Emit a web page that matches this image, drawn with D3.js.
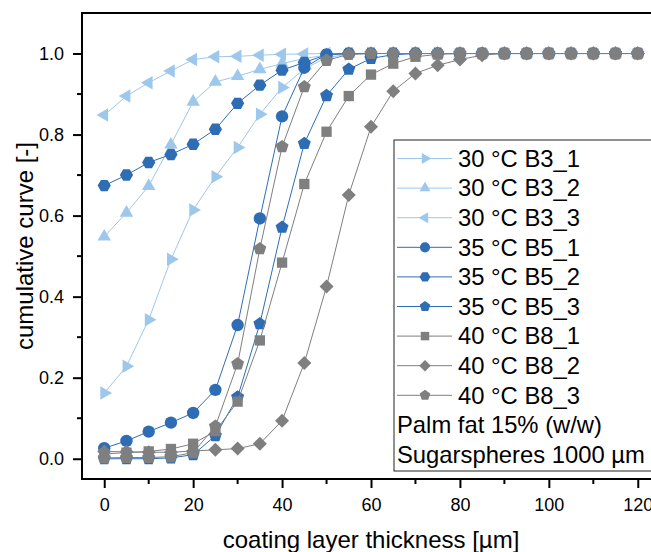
<!DOCTYPE html>
<html>
<head>
<meta charset="utf-8">
<script src="https://cdn.jsdelivr.net/npm/d3@7"></script>
<style>
  html, body { margin: 0; padding: 0; background: #fff; }
  svg { display: block; font-family: Arial, "Liberation Sans", sans-serif; }
</style>
</head>
<body>
<svg id="chart" width="651" height="552"></svg>
<script>
// coating layer thickness [µm]
const thickness = [0, 5, 10, 15, 20, 25, 30, 35, 40, 45, 50, 55, 60, 65, 70, 75, 80, 85, 90, 95, 100, 105, 110, 115, 120];

// cumulative curves per batch
const b3_1 = [0.162, 0.228, 0.343, 0.492, 0.614, 0.696, 0.768, 0.850, 0.916, 0.962, 0.990, 0.998, 1, 1, 1, 1, 1, 1, 1, 1, 1, 1, 1, 1, 1];
const b3_2 = [0.548, 0.607, 0.673, 0.775, 0.881, 0.930, 0.944, 0.961, 0.975, 0.988, 0.996, 1, 1, 1, 1, 1, 1, 1, 1, 1, 1, 1, 1, 1, 1];
const b3_3 = [0.848, 0.895, 0.928, 0.957, 0.985, 0.992, 0.993, 0.996, 0.998, 0.999, 1, 1, 1, 1, 1, 1, 1, 1, 1, 1, 1, 1, 1, 1, 1];
const b5_1 = [0.026, 0.044, 0.067, 0.089, 0.113, 0.170, 0.330, 0.593, 0.845, 0.965, 0.998, 1, 1, 1, 1, 1, 1, 1, 1, 1, 1, 1, 1, 1, 1];
const b5_2 = [0.674, 0.700, 0.731, 0.751, 0.776, 0.813, 0.877, 0.922, 0.959, 0.978, 0.997, 1, 1, 1, 1, 1, 1, 1, 1, 1, 1, 1, 1, 1, 1];
const b5_3 = [0.000, 0.000, 0.000, 0.002, 0.010, 0.057, 0.152, 0.333, 0.571, 0.778, 0.896, 0.961, 0.988, 0.997, 1, 1, 1, 1, 1, 1, 1, 1, 1, 1, 1];
const b8_1 = [0.012, 0.015, 0.018, 0.024, 0.037, 0.068, 0.141, 0.292, 0.484, 0.678, 0.807, 0.895, 0.948, 0.975, 0.992, 0.998, 1, 1, 1, 1, 1, 1, 1, 1, 1];
const b8_2 = [0.018, 0.017, 0.016, 0.016, 0.019, 0.022, 0.025, 0.037, 0.094, 0.236, 0.425, 0.651, 0.819, 0.907, 0.951, 0.971, 0.985, 0.996, 1, 1, 1, 1, 1, 1, 1];
const b8_3 = [0.002, 0.003, 0.003, 0.005, 0.015, 0.080, 0.234, 0.518, 0.770, 0.918, 0.983, 0.998, 1, 1, 1, 1, 1, 1, 1, 1, 1, 1, 1, 1, 1];

const seriesNames = ["30 °C B3_1", "30 °C B3_2", "30 °C B3_3", "35 °C B5_1", "35 °C B5_2", "35 °C B5_3", "40 °C B8_1", "40 °C B8_2", "40 °C B8_3"];
const seriesValues = [b3_1, b3_2, b3_3, b5_1, b5_2, b5_3, b8_1, b8_2, b8_3];
const seriesShapes = ["triRight", "triUp", "triLeft", "circle", "hexagon", "pentagon", "square", "diamond", "pentagon"];
const seriesColors = ["#9dc8ec", "#9dc8ec", "#9dc8ec", "#2e6db4", "#2e6db4", "#2e6db4", "#7f7f7f", "#7f7f7f", "#7f7f7f"];
const noteLines = ["Palm fat 15% (w/w)", "Sugarspheres 1000 µm"];

const xTicks = [0, 20, 40, 60, 80, 100, 120];
const xMinor = [10, 30, 50, 70, 90, 110];
const yTicks = [0.0, 0.2, 0.4, 0.6, 0.8, 1.0];
const yMinor = [0.1, 0.3, 0.5, 0.7, 0.9];

const svg = d3.select("#chart");
const plot = { left: 82, right: 660, top: 13, bottom: 479 };

const x = d3.scaleLinear().domain([-5, 125]).range([plot.left, plot.right]);
const y = d3.scaleLinear().domain([-0.05, 1.1]).range([plot.bottom, plot.top]);

// marker outlines, centred on (0,0)
function polygon(n, r, rot) {
  const pts = d3.range(n).map(i => {
    const a = rot + i * 2 * Math.PI / n;
    return [r * Math.cos(a), r * Math.sin(a)];
  });
  return "M" + pts.map(p => p[0].toFixed(2) + "," + p[1].toFixed(2)).join("L") + "Z";
}
function markerPath(shape, s) {
  switch (shape) {
    case "circle": return d3.symbol(d3.symbolCircle, Math.PI * (6.2 * s) ** 2)();
    case "square": return polygon(4, 7.3 * s, Math.PI / 4);
    case "diamond": return polygon(4, 7.0 * s, 0);
    case "triUp": return polygon(3, 7.8 * s, -Math.PI / 2);
    case "triRight": return polygon(3, 7.8 * s, 0);
    case "triLeft": return polygon(3, 7.8 * s, Math.PI);
    case "pentagon": return polygon(5, 6.8 * s, -Math.PI / 2);
    case "hexagon": return polygon(6, 6.6 * s, 0);
  }
}

// clip data to the plotting frame
svg.append("defs").append("clipPath").attr("id", "plotClip")
  .append("rect")
  .attr("x", plot.left).attr("y", plot.top)
  .attr("width", plot.right - plot.left).attr("height", plot.bottom - plot.top);

const dataLayer = svg.append("g").attr("clip-path", "url(#plotClip)");
const line = d3.line().x((d, i) => x(thickness[i])).y(d => y(d));

seriesValues.forEach((vals, k) => {
  const g = dataLayer.append("g");
  g.append("path")
    .attr("d", line(vals))
    .attr("fill", "none")
    .attr("stroke", seriesColors[k])
    .attr("stroke-width", 1);
  g.selectAll("path.m")
    .data(vals)
    .join("path")
    .attr("class", "m")
    .attr("d", markerPath(seriesShapes[k], 1))
    .attr("transform", (d, i) => `translate(${x(thickness[i])},${y(d)})`)
    .attr("fill", seriesColors[k]);
});

// axes
const axisColor = "#000";
const yAxis = d3.axisLeft(y).tickValues(yTicks).tickSize(9).tickSizeOuter(0).tickPadding(9)
  .tickFormat(d3.format(".1f"));
const gy = svg.append("g").attr("transform", `translate(${plot.left},0)`).call(yAxis);
gy.select(".domain").remove();
gy.selectAll(".tick line").attr("stroke", axisColor).attr("stroke-width", 2);
gy.selectAll(".tick text").attr("font-size", 18).attr("fill", "#000")
  .attr("font-family", "Arial, 'Liberation Sans', sans-serif");
gy.selectAll(".ymin").data(yMinor).join("line")
  .attr("x1", -5).attr("x2", 0)
  .attr("y1", d => y(d)).attr("y2", d => y(d))
  .attr("stroke", axisColor).attr("stroke-width", 2);

const xAxis = d3.axisBottom(x).tickValues(xTicks).tickSize(9).tickSizeOuter(0).tickPadding(10)
  .tickFormat(d3.format("d"));
const gx = svg.append("g").attr("transform", `translate(0,${plot.bottom})`).call(xAxis);
gx.select(".domain").remove();
gx.selectAll(".tick line").attr("stroke", axisColor).attr("stroke-width", 2);
gx.selectAll(".tick text").attr("font-size", 18).attr("fill", "#000")
  .attr("font-family", "Arial, 'Liberation Sans', sans-serif");
gx.selectAll(".xmin").data(xMinor).join("line")
  .attr("x1", d => x(d)).attr("x2", d => x(d))
  .attr("y1", 0).attr("y2", 5)
  .attr("stroke", axisColor).attr("stroke-width", 2);

// frame
svg.append("rect")
  .attr("x", plot.left).attr("y", plot.top)
  .attr("width", plot.right - plot.left).attr("height", plot.bottom - plot.top)
  .attr("fill", "none").attr("stroke", axisColor).attr("stroke-width", 2);

// axis titles
svg.append("text")
  .attr("x", (plot.left + plot.right) / 2).attr("y", 548)
  .attr("text-anchor", "middle").attr("font-size", 24).attr("fill", "#000")
  .text("coating layer thickness [µm]");
svg.append("text")
  .attr("transform", `translate(33,${(plot.top + plot.bottom) / 2}) rotate(-90)`)
  .attr("text-anchor", "middle").attr("font-size", 24).attr("fill", "#000")
  .text("cumulative curve [-]");

// legend
const leg = { x: 394, y: 140, bottom: 471, row0: 158.5, step: 29.6 };
const lg = svg.append("g");
lg.append("rect")
  .attr("x", leg.x).attr("y", leg.y)
  .attr("width", 320).attr("height", leg.bottom - leg.y)
  .attr("fill", "#fff").attr("stroke", "#222").attr("stroke-width", 1);

seriesNames.forEach((name, k) => {
  const cy = leg.row0 + k * leg.step;
  lg.append("line")
    .attr("x1", 397).attr("x2", 452).attr("y1", cy).attr("y2", cy)
    .attr("stroke", seriesColors[k]).attr("stroke-width", 1);
  lg.append("path")
    .attr("d", markerPath(seriesShapes[k], 0.82))
    .attr("transform", `translate(425,${cy})`)
    .attr("fill", seriesColors[k]);
  lg.append("text")
    .attr("x", 458).attr("y", cy + 8.3)
    .attr("font-size", 23.8).attr("fill", "#000")
    .text(name);
});
noteLines.forEach((t, j) => {
  const cy = leg.row0 + (seriesNames.length + j) * leg.step;
  lg.append("text")
    .attr("x", 397).attr("y", cy + 8.3)
    .attr("font-size", 23.8).attr("fill", "#000")
    .text(t);
});
</script>
</body>
</html>
